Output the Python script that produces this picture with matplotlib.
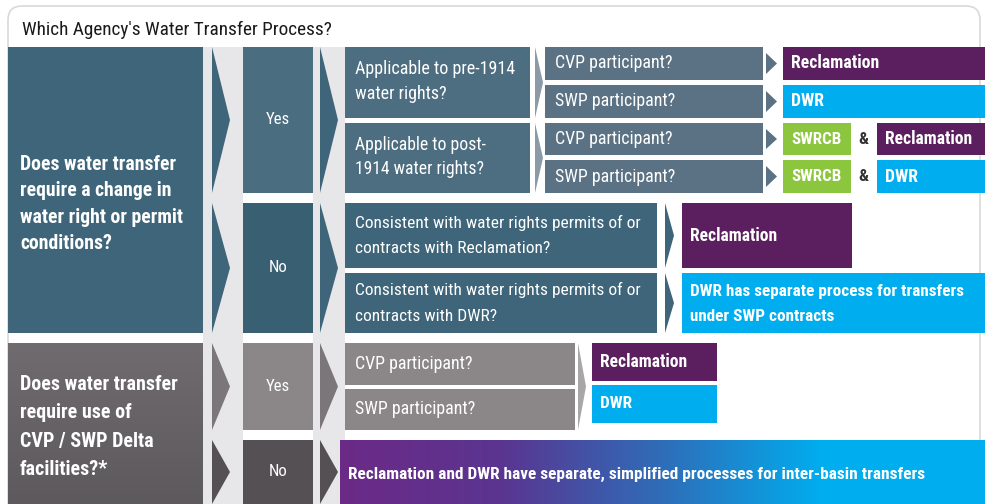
import matplotlib.pyplot as plt
import numpy as np
from matplotlib import font_manager
from matplotlib.colors import LinearSegmentedColormap
from matplotlib.patches import FancyBboxPatch, Polygon, Rectangle

# pick a narrow face if one is installed, otherwise an Arial-like one
_faces = {(f.name, f.stretch) for f in font_manager.fontManager.ttflist}
_names = {n for n, _ in _faces}
STRETCH = "normal"
FAMILY = "Liberation Sans"
for cand in ["Liberation Sans Narrow", "Roboto Condensed", "Open Sans Condensed"]:
    if cand in _names:
        FAMILY = cand
        break
else:
    if any(n == "DejaVu Sans" and s in ("condensed", 75) for n, s in _faces):
        FAMILY, STRETCH = "DejaVu Sans", "condensed"
plt.rcParams["font.family"] = [FAMILY, "DejaVu Sans"]

# --- texts ---
TITLE = "Which Agency's Water Transfer Process?"
Q_CHANGE = "Does water transfer\nrequire a change in\nwater right or permit\nconditions?"
Q_DELTA = "Does water transfer\nrequire use of\nCVP / SWP Delta\nfacilities?*"
ANSWERS = ["Yes", "No"]
RIGHTS_Q = ["Applicable to pre-1914\nwater rights?", "Applicable to post-\n1914 water rights?"]
PARTICIPANT_Q = ["CVP participant?", "SWP participant?"]
CONSISTENT_Q = ["Consistent with water rights permits of or\ncontracts with Reclamation?",
                "Consistent with water rights permits of or\ncontracts with DWR?"]
AGENCIES = ["Reclamation", "DWR", "SWRCB"]
DWR_NOTE = "DWR has separate process for transfers\nunder SWP contracts"
INTER_BASIN = "Reclamation and DWR have separate, simplified processes for inter-basin transfers"

# --- colours ---
TEAL = "#3e6579"
TEAL_YES = "#4a6d80"
TEAL_NO = "#395f73"
TEAL_Q = "#4d6d81"
TEAL_P = "#5a7284"
GRAY_YES = "#8b8789"
GRAY_NO = "#545053"
PURPLE = "#5b1f5f"
BLUE = "#00aeef"
GREEN = "#8cc63f"
BAND = "#e7e6e8"

fig = plt.figure(figsize=(9.85, 5.04), dpi=100)
ax = fig.add_axes([0, 0, 1, 1])
ax.set_xlim(0, 985)
ax.set_ylim(504, 0)
ax.axis("off")
renderer = fig.canvas.get_renderer()


def box(x0, y0, x1, y1, color, z=2):
    ax.add_patch(Rectangle((x0, y0), x1 - x0, y1 - y0, facecolor=color, edgecolor="none", zorder=z))


def chevron(x0, x1, y0, y1, color):
    ax.add_patch(Polygon([(x0, y0), (x1, (y0 + y1) / 2), (x0, y1)], closed=True,
                         facecolor=color, edgecolor="none", zorder=3))


def label(x, y, s, width, weight="normal", ha="left", color="white", ls=1.3, maxsize=14):
    # size the text so its widest line spans `width` px, as in the reference
    t = ax.text(x, y, s, fontsize=10, fontweight=weight, ha=ha, va="center", color=color,
                linespacing=ls, fontstretch=STRETCH, zorder=5)
    w = t.get_window_extent(renderer).width
    t.set_fontsize(min(maxsize, 10 * width / w))
    return t


# frame + title
ax.add_patch(FancyBboxPatch((8, 6), 972, 520, boxstyle="round,pad=0,rounding_size=14",
                            facecolor="white", edgecolor="#d9d9d9", lw=1.2, zorder=0))
label(22, 30, TITLE, 310, color="#1a1a1a")

# light bands behind chevron columns
box(203, 47, 243, 504, BAND, z=1)
box(313, 47, 345, 504, BAND, z=1)

# ---------- top block: change in water right ----------
box(8, 47, 203, 333, TEAL)
label(20, 204, Q_CHANGE, 163, weight="bold", ls=1.47, maxsize=15)

yes_rows = [(47, 193), (203, 333)]
for (y0, y1), ans, col, w in zip(yes_rows, ANSWERS, [TEAL_YES, TEAL_NO], [24, 19]):
    chevron(212, 230, y0, y1, TEAL)
    box(243, y0, 313, y1, col)
    label(278, (y0 + y1) / 2, ans, w, ha="center")
    chevron(320, 338, y0, y1, TEAL)

# Yes branch: pre / post 1914
rights_rows = [(47, 118), (123, 193)]
part_rows = [[(47, 80), (85, 118)], [(123, 155), (160, 193)]]
for (y0, y1), q, prow, w in zip(rights_rows, RIGHTS_Q, part_rows, [160, 130]):
    box(345, y0, 530, y1, TEAL_Q)
    label(355, (y0 + y1) / 2 - 1, q, w, ls=1.5)
    chevron(535, 543, y0, y1, "#8b9aa5")
    for (py0, py1), pq, pw in zip(prow, PARTICIPANT_Q, [117, 120]):
        box(545, py0, 763, py1, TEAL_P)
        label(555, (py0 + py1) / 2, pq, pw)
        chevron(766, 777, py0 + 6, py1 - 6, TEAL_P)

# outcomes for pre-1914
(r0, r1), (d0, d1) = part_rows[0]
box(783, r0, 985, r1, PURPLE)
label(791, (r0 + r1) / 2, AGENCIES[0], 88, weight="bold")
box(783, d0, 985, d1, BLUE)
label(791, (d0 + d1) / 2, AGENCIES[1], 33, weight="bold")

# outcomes for post-1914
for (y0, y1), agency, col, aw in zip(part_rows[1], AGENCIES[:2], [PURPLE, BLUE], [87, 33]):
    box(783, y0, 851, y1, GREEN)
    label(817, (y0 + y1) / 2, AGENCIES[2], 50, weight="bold", ha="center")
    label(863, (y0 + y1) / 2, "&", 10, weight="bold", ha="center", color="#333333")
    box(877, y0, 985, y1, col)
    label(885, (y0 + y1) / 2, agency, aw, weight="bold")

# No branch: consistent with permits
cons_rows = [(203, 268), (273, 333)]
for (y0, y1), q in zip(cons_rows, CONSISTENT_Q):
    box(345, y0, 657, y1, TEAL)
    label(355, (y0 + y1) / 2, q, 282, ls=1.85)
    chevron(665, 674, y0, y1, TEAL)
box(682, 203, 852, 268, PURPLE)
label(690, 236, AGENCIES[0], 87, weight="bold")
box(682, 273, 985, 333, BLUE)
label(690, 304, DWR_NOTE, 273, weight="bold", ls=1.85)

# ---------- bottom block: Delta facilities ----------
grad_gray = LinearSegmentedColormap.from_list("g", ["#6f6b6e", "#5d5a5d"])
ax.imshow(np.linspace(0, 1, 64).reshape(-1, 1), cmap=grad_gray, aspect="auto",
          extent=(8, 203, 504, 343), zorder=2)
label(20, 427, Q_DELTA, 157, weight="bold", ls=1.63, maxsize=15)

delta_rows = [(343, 430), (440, 504)]
for (y0, y1), ans, col, chev, w in zip(delta_rows, ANSWERS, [GRAY_YES, GRAY_NO],
                                       ["#7a7679", GRAY_NO], [24, 19]):
    chevron(212, 230, y0, y1, chev)
    box(243, y0, 313, y1, col)
    label(278, (y0 + y1) / 2, ans, w, ha="center")
    chevron(320, 338, y0, y1, chev)

bot_part_rows = [(343, 385), (389, 430)]
for (y0, y1), pq, pw in zip(bot_part_rows, PARTICIPANT_Q, [117, 120]):
    box(345, y0, 575, y1, GRAY_YES)
    label(355, (y0 + y1) / 2, pq, pw)
chevron(578, 586, 343, 430, "#a9a6a8")
box(592, 343, 717, 381, PURPLE)
label(600, 362, AGENCIES[0], 87, weight="bold")
box(592, 385, 717, 423, BLUE)
label(600, 404, AGENCIES[1], 32, weight="bold")

# inter-basin gradient bar
grad = LinearSegmentedColormap.from_list(
    "pb", ["#6b2a86", "#5a3590", "#2f6db8", "#00aeef", "#00aeef"])
ax.imshow(np.linspace(0, 1, 256).reshape(1, -1), cmap=grad, aspect="auto",
          extent=(340, 985, 504, 440), zorder=2)
label(348, 474, INTER_BASIN, 577, weight="bold")

fig.savefig("out.png", dpi=100, facecolor="white")
